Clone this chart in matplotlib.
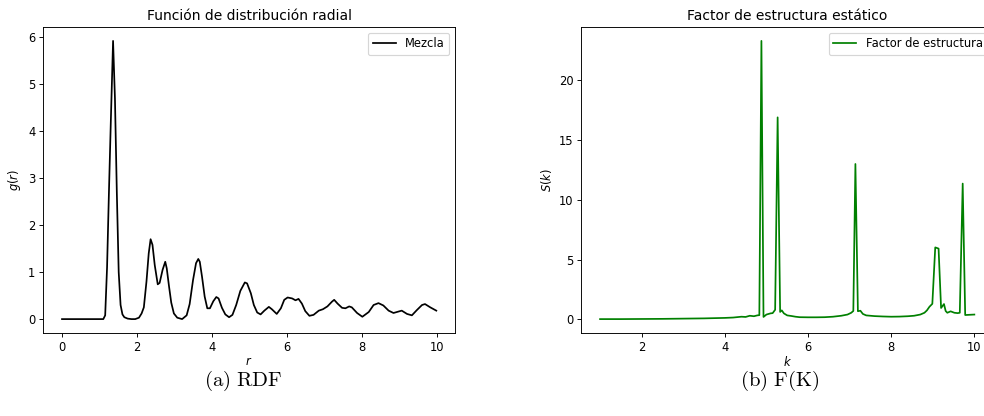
import numpy as np
import matplotlib.pyplot as plt

# radial distribution function g(r)
r = [0.00, 1.10, 1.15, 1.20, 1.25, 1.30, 1.36, 1.41, 1.46, 1.51, 1.56, 1.61,
     1.66, 1.75, 1.85, 1.95, 2.05, 2.12, 2.18, 2.25, 2.31, 2.36, 2.41, 2.47,
     2.55, 2.60, 2.68, 2.75, 2.79, 2.85, 2.91, 2.98, 3.07, 3.20, 3.32, 3.40,
     3.49, 3.57, 3.63, 3.67, 3.73, 3.80, 3.87, 3.94, 4.03, 4.11, 4.17, 4.26,
     4.35, 4.45, 4.54, 4.64, 4.75, 4.87, 4.93, 5.03, 5.11, 5.20, 5.29, 5.39,
     5.51, 5.59, 5.72, 5.83, 5.92, 6.01, 6.13, 6.22, 6.30, 6.39, 6.48, 6.59,
     6.70, 6.84, 6.95, 7.07, 7.19, 7.25, 7.34, 7.46, 7.55, 7.65, 7.72, 7.86,
     8.00, 8.17, 8.30, 8.43, 8.56, 8.70, 8.83, 8.96, 9.05, 9.19, 9.32, 9.45,
     9.59, 9.67, 9.81, 9.97]
g = [0.00, 0.00, 0.08, 1.10, 2.70, 4.20, 5.92, 4.70, 2.70, 1.00, 0.30, 0.10,
     0.04, 0.01, 0.00, 0.00, 0.03, 0.12, 0.25, 0.80, 1.40, 1.70, 1.58, 1.15,
     0.74, 0.77, 1.05, 1.22, 1.08, 0.70, 0.35, 0.12, 0.03, 0.00, 0.08, 0.32,
     0.83, 1.19, 1.28, 1.22, 0.90, 0.48, 0.23, 0.23, 0.38, 0.47, 0.44, 0.24,
     0.10, 0.04, 0.09, 0.30, 0.60, 0.78, 0.76, 0.55, 0.30, 0.14, 0.10, 0.18,
     0.26, 0.21, 0.11, 0.23, 0.41, 0.46, 0.44, 0.40, 0.43, 0.33, 0.17, 0.07,
     0.09, 0.18, 0.21, 0.27, 0.37, 0.41, 0.33, 0.24, 0.23, 0.27, 0.25, 0.13,
     0.05, 0.15, 0.30, 0.34, 0.29, 0.18, 0.13, 0.16, 0.18, 0.11, 0.08, 0.19,
     0.30, 0.32, 0.25, 0.18]

# static structure factor S(k)
k = [1.00, 1.50, 2.00, 2.50, 3.00, 3.50, 4.00, 4.20, 4.40, 4.50, 4.60, 4.70,
     4.78, 4.83, 4.88, 4.93, 5.00, 5.10, 5.15, 5.21, 5.27, 5.33, 5.37, 5.42,
     5.50, 5.60, 5.70, 5.80, 6.00, 6.20, 6.40, 6.60, 6.80, 6.95, 7.04, 7.09,
     7.14, 7.20, 7.26, 7.32, 7.40, 7.50, 7.60, 7.80, 8.00, 8.20, 8.40, 8.55,
     8.70, 8.80, 8.86, 8.92, 8.99, 9.06, 9.14, 9.20, 9.27, 9.31, 9.35, 9.43,
     9.52, 9.60, 9.65, 9.72, 9.78, 9.88, 10.00]
S = [0.02, 0.02, 0.03, 0.04, 0.06, 0.08, 0.12, 0.15, 0.22, 0.20, 0.30, 0.26,
     0.33, 0.35, 23.30, 0.20, 0.40, 0.50, 0.52, 0.80, 16.90, 0.62, 0.75, 0.50,
     0.33, 0.28, 0.22, 0.18, 0.17, 0.17, 0.18, 0.22, 0.30, 0.40, 0.55, 0.70,
     13.00, 0.68, 0.72, 0.45, 0.33, 0.30, 0.27, 0.24, 0.22, 0.23, 0.26, 0.30,
     0.40, 0.55, 0.75, 1.05, 1.30, 6.02, 5.92, 0.95, 1.28, 0.70, 0.55, 0.67,
     0.55, 0.52, 0.55, 11.36, 0.36, 0.38, 0.40]

dpi = 83
fig = plt.figure(figsize=(984 / dpi, 416 / dpi), dpi=dpi)

ax1 = fig.add_axes([0.0440, 0.1995, 0.4184, 0.7356])
ax1.plot(r, g, color='black', label='Mezcla')
ax1.set_title('Función de distribución radial')
ax1.set_xlabel('$r$', labelpad=0.5)
ax1.set_ylabel('$g(r)$')
ax1.legend(loc='upper right')

ax2 = fig.add_axes([0.5908, 0.1995, 0.4184, 0.7356])
ax2.plot(k, S, color='green', label='Factor de estructura')
ax2.set_title('Factor de estructura estático')
ax2.set_xlabel('$k$', labelpad=0.5)
ax2.set_ylabel('$S(k)$')
ax2.set_yticks([0, 5, 10, 15, 20])
ax2.legend(loc='upper right')

# subfigure captions
fig.text(0.247, 0.084, r'$\mathrm{(a)\ RDF}$', ha='center', va='center',
         fontsize=18, math_fontfamily='cm')
fig.text(0.792, 0.084, r'$\mathrm{(b)\ F(K)}$', ha='center', va='center',
         fontsize=18, math_fontfamily='cm')

fig.savefig('out.png', dpi=dpi)
